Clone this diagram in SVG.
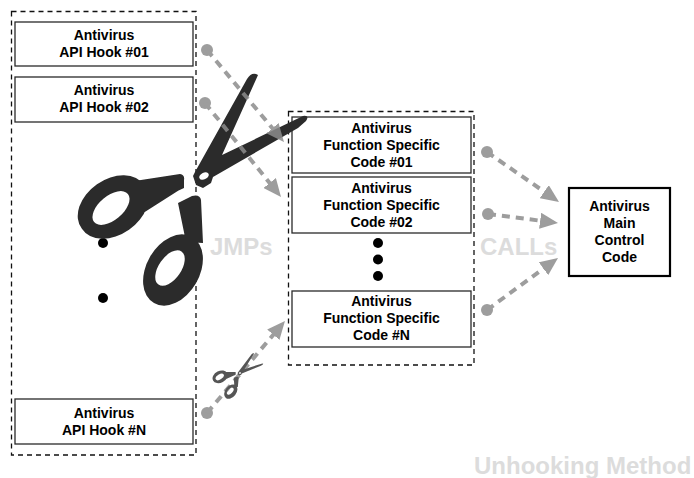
<svg xmlns="http://www.w3.org/2000/svg" xmlns:xlink="http://www.w3.org/1999/xlink" width="694" height="478" viewBox="0 0 694 478">
  <style>
    .group { fill: none; stroke: #111; stroke-width: 1.3; stroke-dasharray: 5 4; }
    .box { fill: #fff; stroke: #2a2a2a; stroke-width: 1.3; }
    .main { fill: #fff; stroke: #000; stroke-width: 2.2; }
    .lbl { font-family: "Liberation Sans", Arial, Helvetica, sans-serif; font-weight: bold; font-size: 14px; fill: #000; text-anchor: middle; }
    .big { font-family: "Liberation Sans", Arial, Helvetica, sans-serif; font-weight: bold; font-size: 24px; fill: #dcdcdc; }
    .flow { fill: none; stroke: #8c8c8c; stroke-width: 4; stroke-dasharray: 8 6; }
    .flow-dot { fill: #8c8c8c; }
    .link { opacity: 0.85; }
    .dot { fill: #000; }
  </style>
  <defs>
    <marker id="head" viewBox="0 0 18 16" refX="4" refY="8" markerWidth="18" markerHeight="16" markerUnits="userSpaceOnUse" orient="auto">
      <path d="M0,0 L18,8 L0,16 Z" fill="#8c8c8c"/>
    </marker>
    <!-- scissors, drawn around the pivot at the origin -->
    <g id="shears">
      <path transform="translate(-204 -176)" fill-rule="nonzero" d="
        M195,172 L247,79 Q252,71 258,75 L222,155 L303,116 Q310,115 306,121 L298,128 L213,177 L211,183 L203,188 L196,185 L193,176 Z
        M208.3,173.5 A5,3 -30 1 0 199.7,178.5 A5,3 -30 1 0 208.3,173.5 Z
        M144.1,185.2 A38,27 -35 1 1 81.9,228.8 A38,27 -35 1 1 144.1,185.2 Z
        M127.9,193.9 A22,12 -40 1 0 94.1,222.1 A22,12 -40 1 0 127.9,193.9 Z
        M128,182 L180,174 Q185,175 184,180 L184,188 L143,207 Z
        M148,203 L184,187 L104,238 Z
        M192,237.1 A38,26 -60 1 1 154,302.9 A38,26 -60 1 1 192,237.1 Z
        M181.5,251.4 A20,11 -55 1 0 158.5,284.6 A20,11 -55 1 0 181.5,251.4 Z
        M178,203 L192,196 Q200,194 201,200 L203,243 L186,242 Z"/>
    </g>
  </defs>

  <!-- API hook column -->
  <rect class="group" x="11.5" y="11.5" width="184.5" height="443.5"/>
  <g id="hook-01">
    <rect class="box" x="15" y="22" width="178" height="44"/>
    <text class="lbl" x="104" y="39.5">Antivirus</text>
    <text class="lbl" x="104" y="56.5">API Hook #01</text>
  </g>
  <g id="hook-02">
    <rect class="box" x="15" y="77" width="178" height="45"/>
    <text class="lbl" x="104" y="95">Antivirus</text>
    <text class="lbl" x="104" y="112">API Hook #02</text>
  </g>
  <circle class="dot" cx="103" cy="243" r="5"/>
  <circle class="dot" cx="103" cy="298" r="5"/>
  <g id="hook-n">
    <rect class="box" x="15" y="399" width="178" height="45"/>
    <text class="lbl" x="104" y="417.5">Antivirus</text>
    <text class="lbl" x="104" y="434.5">API Hook #N</text>
  </g>

  <!-- function specific code column -->
  <rect class="group" x="288.5" y="111.5" width="185.5" height="253.5"/>
  <g id="code-01">
    <rect class="box" x="292" y="117" width="179" height="56"/>
    <text class="lbl" x="381.5" y="133">Antivirus</text>
    <text class="lbl" x="381.5" y="150">Function Specific</text>
    <text class="lbl" x="381.5" y="166.5">Code #01</text>
  </g>
  <g id="code-02">
    <rect class="box" x="292" y="177" width="179" height="56"/>
    <text class="lbl" x="381.5" y="192.5">Antivirus</text>
    <text class="lbl" x="381.5" y="209.5">Function Specific</text>
    <text class="lbl" x="381.5" y="226.5">Code #02</text>
  </g>
  <circle class="dot" cx="378" cy="243" r="5"/>
  <circle class="dot" cx="378" cy="259.5" r="5"/>
  <circle class="dot" cx="378" cy="276" r="5"/>
  <g id="code-n">
    <rect class="box" x="292" y="291" width="179" height="56"/>
    <text class="lbl" x="381.5" y="306">Antivirus</text>
    <text class="lbl" x="381.5" y="323">Function Specific</text>
    <text class="lbl" x="381.5" y="340">Code #N</text>
  </g>

  <g id="main-control">
    <rect class="main" x="569" y="188" width="101" height="88"/>
    <text class="lbl" x="619.5" y="211">Antivirus</text>
    <text class="lbl" x="619.5" y="228">Main</text>
    <text class="lbl" x="619.5" y="245">Control</text>
    <text class="lbl" x="619.5" y="262">Code</text>
  </g>

  <!-- big scissors cutting the hooks -->
  <use xlink:href="#shears" href="#shears" transform="translate(204 176)" fill="#2b2b2b"/>

  <text class="big" x="210" y="255">JMPs</text>
  <text class="big" x="480" y="255">CALLs</text>

  <g id="connectors">
    <g class="link">
      <circle class="flow-dot" cx="207" cy="50" r="6"/>
      <line class="flow" x1="207" y1="50" x2="275" y2="131.3" marker-end="url(#head)"/>
    </g>
    <g class="link">
      <circle class="flow-dot" cx="205" cy="103" r="6"/>
      <line class="flow" x1="205" y1="103" x2="272.2" y2="186.1" marker-end="url(#head)"/>
    </g>
    <g class="link">
      <circle class="flow-dot" cx="207" cy="413" r="6"/>
      <line class="flow" x1="207" y1="413" x2="275.9" y2="331.7" marker-end="url(#head)"/>
    </g>
    <g class="link">
      <circle class="flow-dot" cx="487" cy="152" r="6"/>
      <line class="flow" x1="487" y1="152" x2="547.5" y2="194" marker-end="url(#head)"/>
    </g>
    <g class="link">
      <circle class="flow-dot" cx="488" cy="214" r="6"/>
      <line class="flow" x1="488" y1="214" x2="544.1" y2="221.2" marker-end="url(#head)"/>
    </g>
    <g class="link">
      <circle class="flow-dot" cx="487" cy="310" r="6"/>
      <line class="flow" x1="487" y1="310" x2="546.7" y2="266.3" marker-end="url(#head)"/>
    </g>
  </g>

  <!-- small scissors on the last hook -->
  <use xlink:href="#shears" href="#shears" transform="translate(240 373) rotate(8) scale(0.21)" fill="#555"/>

  <text class="big" x="474" y="474">Unhooking Method</text>
</svg>
